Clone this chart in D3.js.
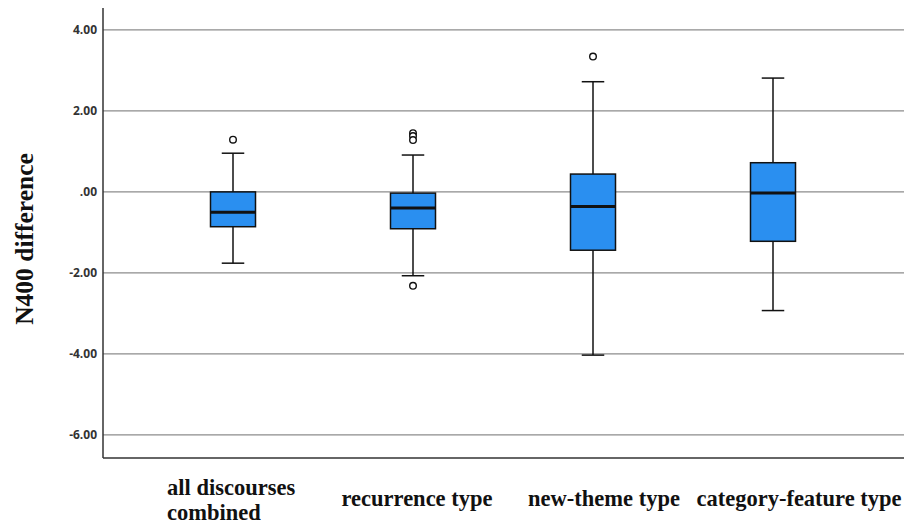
<!DOCTYPE html>
<html><head><meta charset="utf-8">
<script src="https://cdn.jsdelivr.net/npm/d3@7"></script>
<style>body{margin:0;background:#fff}</style>
</head><body>
<svg id="c" width="904" height="524"></svg>
<script>
const categories = ["all discourses combined", "recurrence type", "new-theme type", "category-feature type"];
const labelLines = [["all discourses", "combined"], ["recurrence type"], ["new-theme type"], ["category-feature type"]];
const whiskerLow = [-1.76, -2.07, -4.03, -2.93];
const q1 = [-0.86, -0.91, -1.44, -1.22];
const median = [-0.50, -0.40, -0.36, -0.03];
const q3 = [0.00, -0.03, 0.44, 0.72];
const whiskerHigh = [0.955, 0.91, 2.72, 2.81];
const outliers = [[1.29], [1.45, 1.38, 1.28, -2.32], [3.34], []];
const yTicks = [4, 2, 0, -2, -4, -6];
const yLabel = "N400 difference";

(function () {
const svg = d3.select("#c");
const mLeft = 103, mRight = 904, mTop = 8, mBottom = 458;
const y = d3.scaleLinear().domain([-6.57, 4.54]).range([mBottom, mTop]);
const x = d3.scaleBand().domain(categories).range([143, 863]).paddingInner(0.75).paddingOuter(0.375);
const fmt = v => v === 0 ? ".00" : d3.format(".2f")(v).replace("−", "-");

// gridlines
svg.append("g").selectAll("line").data(yTicks).join("line")
  .attr("x1", mLeft).attr("x2", mRight)
  .attr("y1", d => y(d)).attr("y2", d => y(d))
  .attr("stroke", "#8c8c8c").attr("stroke-width", 1.3);

// axes
const yAxis = svg.append("g").attr("transform", `translate(${mLeft},0)`)
  .call(d3.axisLeft(y).tickValues(yTicks).tickFormat(fmt).tickSize(0).tickPadding(6));
yAxis.select(".domain").remove();
yAxis.selectAll("text").attr("font-family", "'Open Sans', 'DejaVu Sans', sans-serif")
  .attr("font-weight", "bold").attr("font-size", 12).attr("fill", "#333");
svg.append("line").attr("x1", mLeft).attr("x2", mLeft).attr("y1", mTop).attr("y2", mBottom)
  .attr("stroke", "#333").attr("stroke-width", 1.5);
svg.append("line").attr("x1", mLeft).attr("x2", mRight).attr("y1", mBottom).attr("y2", mBottom)
  .attr("stroke", "#333").attr("stroke-width", 1.5);

// boxes
const data = categories.map((c, i) => ({c, i, lo: whiskerLow[i], q1: q1[i], med: median[i], q3: q3[i], hi: whiskerHigh[i], out: outliers[i]}));
const bw = x.bandwidth();
const g = svg.append("g").selectAll("g").data(data).join("g")
  .attr("transform", d => `translate(${x(d.c)},0)`);
const stroke = "#111";
g.append("line").attr("x1", bw/2).attr("x2", bw/2).attr("y1", d => y(d.hi)).attr("y2", d => y(d.lo))
  .attr("stroke", stroke).attr("stroke-width", 1.5);
g.append("line").attr("x1", bw/4).attr("x2", bw*3/4).attr("y1", d => y(d.hi)).attr("y2", d => y(d.hi))
  .attr("stroke", stroke).attr("stroke-width", 1.5);
g.append("line").attr("x1", bw/4).attr("x2", bw*3/4).attr("y1", d => y(d.lo)).attr("y2", d => y(d.lo))
  .attr("stroke", stroke).attr("stroke-width", 1.5);
g.append("rect").attr("x", 0).attr("width", bw).attr("y", d => y(d.q3)).attr("height", d => y(d.q1) - y(d.q3))
  .attr("fill", "#2a8ff0").attr("stroke", stroke).attr("stroke-width", 1.5);
g.append("line").attr("x1", 0).attr("x2", bw).attr("y1", d => y(d.med)).attr("y2", d => y(d.med))
  .attr("stroke", stroke).attr("stroke-width", 3);
g.selectAll("circle").data(d => d.out).join("circle")
  .attr("cx", bw/2).attr("cy", v => y(v)).attr("r", 3.3)
  .attr("fill", "#fff").attr("stroke", stroke).attr("stroke-width", 1.4);

// x labels
const nudge = [-10, 4, 11, 26];
const xl = svg.append("g").selectAll("text").data(data).join("text")
  .attr("font-family", "'Liberation Serif', 'Times New Roman', serif")
  .attr("font-weight", "bold").attr("font-size", 22.5).attr("fill", "#111")
  .attr("text-anchor", d => labelLines[d.i].length > 1 ? "start" : "middle")
  .attr("y", d => labelLines[d.i].length > 1 ? 495 : 506);
xl.each(function(d) {
  const lines = labelLines[d.i];
  const cx = x(d.c) + bw/2 + nudge[d.i];
  const t = d3.select(this);
  if (lines.length > 1) {
    lines.forEach((l, k) => t.append("tspan").attr("x", 167).attr("dy", k ? 25 : 0).text(l));
  } else {
    t.attr("x", cx).text(lines[0]);
  }
});

// y label
svg.append("text").attr("transform", `translate(33,${(y(4.54)+y(-6.57))/2 + 6}) rotate(-90)`)
  .attr("text-anchor", "middle")
  .attr("font-family", "'Liberation Serif', 'Times New Roman', serif")
  .attr("font-weight", "bold").attr("font-size", 25.5).attr("fill", "#111")
  .text(yLabel);
})();
</script>
</body></html>
